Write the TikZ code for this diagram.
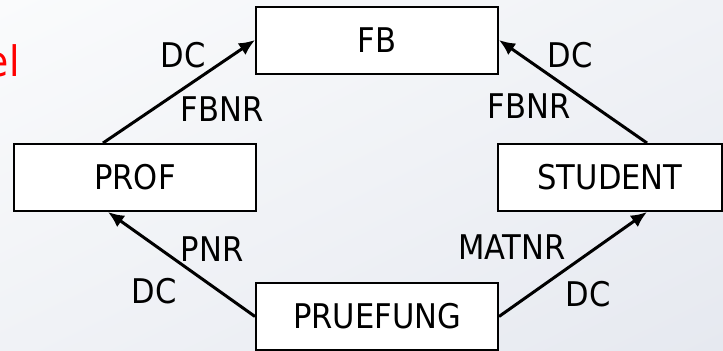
\documentclass[tikz,border=0pt]{standalone}
\usepackage{fontspec}
\setmainfont{DejaVu Sans Condensed}
\usepackage{xcolor}
\usetikzlibrary{calc,positioning,arrows.meta,shadings}

\definecolor{bgtop}{HTML}{FAFBFC}
\definecolor{bgbottom}{HTML}{E6E9F0}

\begin{document}
\begin{tikzpicture}[
    x=0.5pt, y=-0.5pt,
    font=\fontsize{17}{20}\selectfont,
    entity/.style={rectangle, draw, fill=white, line width=1pt, minimum height=33.5pt, inner sep=0pt},
    conn/.style={line width=1.5pt, -{Latex[length=8pt, width=7pt]}},
    lbl/.style={inner sep=0pt}
]
    % Background
    \shade[upper left=bgtop, upper right=bgtop!50!bgbottom, lower left=bgtop!50!bgbottom, lower right=bgbottom]
        (0,0) rectangle (723,350);
    \useasboundingbox (0,0) rectangle (723,350);

    % Title fragment
    \node[lbl, anchor=east, text=red, font=\fontsize{21}{24}\selectfont] (title) at (20,61) {el};

    % Entities
    \node[entity, minimum width=121pt] (fb) at (377,40) {FB};
    \node[entity, minimum width=121pt] (prof) at (135,177.5) {PROF};
    \node[entity, minimum width=112pt] (student) at (610,177.5) {STUDENT};
    \node[entity, minimum width=121pt] (pruefung) at (377,316.5) {PRUEFUNG};

    % Draw connections
    \draw[conn] ([xshift=-16pt]prof.north) -- (fb.west);
    \draw[conn] ([xshift=18.5pt]student.north) -- (fb.east);
    \draw[conn] (pruefung.west) -- ([xshift=-13.5pt]prof.south);
    \draw[conn] (pruefung.east) -- ([xshift=18.5pt]student.south);

    % Connection labels
    \node[lbl] (dcfbl) at (183,55) {DC};
    \node[lbl] (fbnrl) at (222,109) {FBNR};
    \node[lbl] (dcfbr) at (570,55) {DC};
    \node[lbl] (fbnrr) at (529,106) {FBNR};
    \node[lbl] (pnr) at (212,249) {PNR};
    \node[lbl] (dcprof) at (154,291) {DC};
    \node[lbl] (matnr) at (512,247) {MATNR};
    \node[lbl] (dcstud) at (588,294) {DC};
\end{tikzpicture}
\end{document}
